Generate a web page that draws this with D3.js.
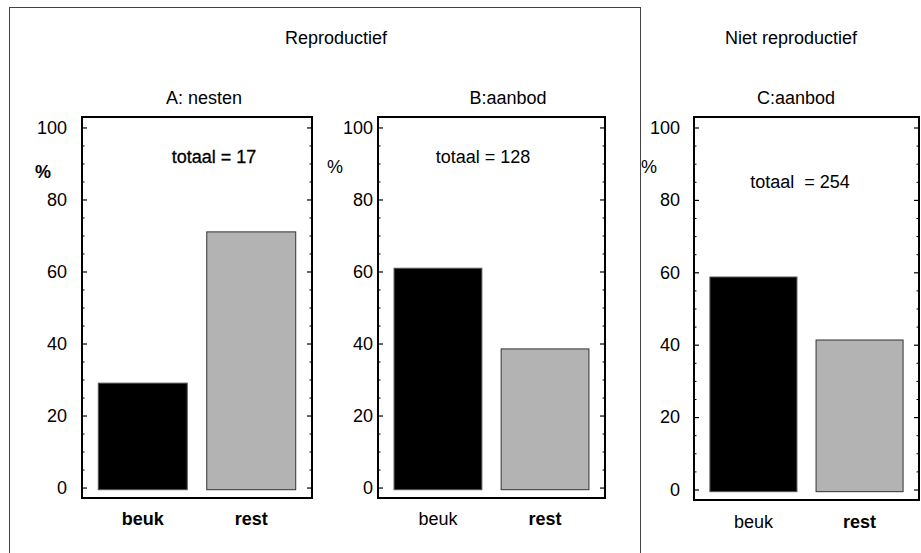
<!DOCTYPE html>
<html><head><meta charset="utf-8">
<script src="https://cdn.jsdelivr.net/npm/d3@7"></script>
<style>
body{margin:0;background:#fff;}
svg{display:block;font-family:"Liberation Sans",Arial,sans-serif;}
text{fill:#000;}
</style></head>
<body>
<svg id="chart" width="921" height="553"></svg>
<script>
// ---- data ----
const categories = ["beuk", "rest"];
const panelTitles = ["A: nesten", "B:aanbod", "C:aanbod"];
const groupTitles = ["Reproductief", "Niet reproductief"];
const totals = ["totaal = 17", "totaal = 128", "totaal  = 254"];
const valuesA = [29, 71];
const valuesB = [60.9, 38.5];
const valuesC = [58.7, 41.3];
const majorTicks = [0, 20, 40, 60, 80, 100];
const minorTicks = [5,10,15,25,30,35,45,50,55,65,70,75,85,90,95];
const yDomain = [-2.9, 102.9];
const barBase = -0.6;
const colors = ["#000000", "#b3b3b3"];

// ---- layout ----
const layout = [
  {values: valuesA, x0: 82, x1: 312, y0: 498, y1: 117, lblPad: 15, titleX: 204, totX: 214, totY: 163, totBold: true,
   pctX: 35, pctY: 178, pctBold: true, catBold: [true, true], catY: 525},
  {values: valuesB, x0: 378, x1: 605, y0: 498, y1: 117, lblPad: 5, titleX: 508, totX: 483, totY: 163, totBold: false,
   pctX: 327, pctY: 173, pctBold: false, catBold: [false, true], catY: 525},
  {values: valuesC, x0: 694, x1: 919, y0: 500, y1: 117, lblPad: 14, titleX: 796, totX: 800, totY: 188, totBold: false,
   pctX: 641, pctY: 173, pctBold: false, catBold: [false, true], catY: 528}
];

const svg = d3.select("#chart");

// outer box around reproductive panels
svg.append("rect").attr("x", 9.5).attr("y", 7.5).attr("width", 631).attr("height", 560)
  .attr("fill", "none").attr("stroke", "#444").attr("stroke-width", 1);

svg.append("text").attr("x", 336).attr("y", 44).attr("text-anchor", "middle")
  .attr("font-size", 18).text(groupTitles[0]);
svg.append("text").attr("x", 791).attr("y", 44).attr("text-anchor", "middle")
  .attr("font-size", 18).text(groupTitles[1]);

layout.forEach((p, i) => {
  const x = d3.scaleBand().domain(categories).range([p.x0, p.x1]).paddingInner(0.18).paddingOuter(0.15);
  const y = d3.scaleLinear().domain(yDomain).range([p.y0, p.y1]);
  const g = svg.append("g");

  // bars
  g.selectAll("rect.bar").data(categories).join("rect").attr("class", "bar")
    .attr("x", d => x(d)).attr("width", x.bandwidth())
    .attr("y", (d, j) => y(p.values[j]))
    .attr("height", (d, j) => y(barBase) - y(p.values[j]))
    .attr("fill", (d, j) => colors[j])
    .attr("stroke", (d, j) => j === 0 ? "#555" : "#333").attr("stroke-width", 1);

  // left axis: major ticks with labels
  const left = g.append("g").attr("transform", `translate(${p.x0},0)`)
    .call(d3.axisLeft(y).tickValues(majorTicks).tickSizeInner(-5).tickSizeOuter(0).tickPadding(p.lblPad));
  left.select(".domain").remove();
  left.selectAll("text").attr("font-size", 18).attr("font-family", "Liberation Sans, Arial, sans-serif").attr("fill", "#000");
  left.selectAll("line").attr("stroke", "#000").attr("stroke-width", 1.2);
  const leftMinor = g.append("g").attr("transform", `translate(${p.x0},0)`)
    .call(d3.axisLeft(y).tickValues(minorTicks).tickSizeInner(-2.5).tickSizeOuter(0).tickFormat(""));
  leftMinor.select(".domain").remove();
  leftMinor.selectAll("line").attr("stroke", "#000");

  // right axis
  const right = g.append("g").attr("transform", `translate(${p.x1},0)`)
    .call(d3.axisRight(y).tickValues(majorTicks).tickSizeInner(-5).tickSizeOuter(0).tickFormat(""));
  right.select(".domain").remove();
  right.selectAll("line").attr("stroke", "#000").attr("stroke-width", 1.2);
  const rightMinor = g.append("g").attr("transform", `translate(${p.x1},0)`)
    .call(d3.axisRight(y).tickValues(minorTicks).tickSizeInner(-2.5).tickSizeOuter(0).tickFormat(""));
  rightMinor.select(".domain").remove();
  rightMinor.selectAll("line").attr("stroke", "#000");

  // frame
  g.append("rect").attr("x", p.x0).attr("y", p.y1).attr("width", p.x1 - p.x0).attr("height", p.y0 - p.y1)
    .attr("fill", "none").attr("stroke", "#000").attr("stroke-width", 2);

  // bottom category labels
  g.selectAll("text.cat").data(categories).join("text").attr("class", "cat")
    .attr("x", d => x(d) + x.bandwidth() / 2).attr("y", p.catY)
    .attr("text-anchor", "middle").attr("font-size", 18)
    .attr("font-weight", (d, j) => p.catBold[j] ? "bold" : "normal")
    .text(d => d);

  // titles
  g.append("text").attr("x", p.titleX).attr("y", 104).attr("text-anchor", "middle")
    .attr("font-size", 18).text(panelTitles[i]);
  g.append("text").attr("x", p.totX).attr("y", p.totY).attr("text-anchor", "middle")
    .attr("font-size", 18).style("white-space", "pre")
    .attr("stroke", p.totBold ? "#000" : "none").attr("stroke-width", p.totBold ? 0.3 : 0)
    .text(totals[i]);
  g.append("text").attr("x", p.pctX).attr("y", p.pctY)
    .attr("font-size", 18).attr("font-weight", p.pctBold ? "bold" : "normal").text("%");
});
</script>
</body></html>
